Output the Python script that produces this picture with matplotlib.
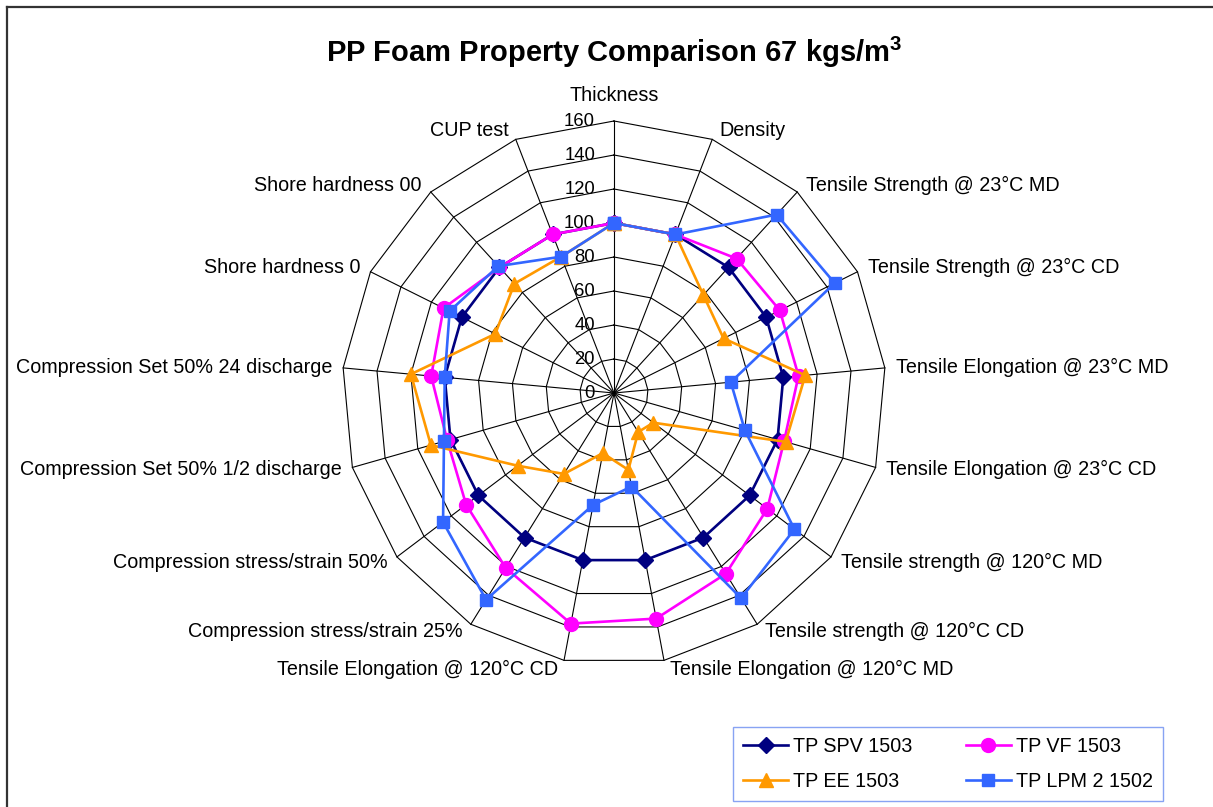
import numpy as np
import matplotlib
matplotlib.use('Agg')
import matplotlib.pyplot as plt
from matplotlib.lines import Line2D

plt.rcParams['font.family'] = ['Liberation Sans', 'DejaVu Sans']
plt.rcParams['mathtext.fontset'] = 'custom'
plt.rcParams['mathtext.bf'] = 'Liberation Sans:bold'
plt.rcParams['mathtext.rm'] = 'Liberation Sans'

categories = [
    "Thickness", "Density", "Tensile Strength @ 23°C MD", "Tensile Strength @ 23°C CD",
    "Tensile Elongation @ 23°C MD", "Tensile Elongation @ 23°C CD",
    "Tensile strength @ 120°C MD", "Tensile strength @ 120°C CD",
    "Tensile Elongation @ 120°C MD", "Tensile Elongation @ 120°C CD",
    "Compression stress/strain 25%", "Compression stress/strain 50%",
    "Compression Set 50% 1/2 discharge", "Compression Set 50% 24 discharge",
    "Shore hardness 0", "Shore hardness 00", "CUP test",
]
spv_1503 = [100, 100, 100, 100, 100, 100, 100, 100, 100, 100, 100, 100, 100, 100, 100, 100, 100]
vf_1503 = [100, 100, 107, 109, 109, 104, 113, 125, 135, 138, 121, 109, 102, 108, 112, 100, 100]
ee_1503 = [100, 100, 78, 72, 113, 105, 29, 27, 46, 36, 56, 71, 112, 120, 78, 87, 86]
lpm2_1502 = [100, 100, 142, 145, 69, 80, 133, 142, 56, 67, 143, 126, 104, 100, 108, 101, 86]
series_names = ["TP SPV 1503", "TP VF 1503", "TP EE 1503", "TP LPM 2 1502"]
r_ticks = [0, 20, 40, 60, 80, 100, 120, 140, 160]

W, H = 1213, 807
fig = plt.figure(figsize=(W / 100, H / 100), dpi=100)
fig.patch.set_facecolor('white')

cx, cy, R = 614, 393, 272
ax = fig.add_axes([(cx - R) / W, (H - cy - R) / H, 2 * R / W, 2 * R / H], projection='polar')
ax.set_theta_zero_location('N')
ax.set_theta_direction(-1)
ax.set_ylim(0, 160)
ax.grid(False)
ax.set_xticks([])
ax.set_yticks([])
ax.spines['polar'].set_visible(False)
ax.patch.set_visible(False)

n = len(categories)
theta = np.arange(n) * 2 * np.pi / n
theta_c = np.append(theta, theta[0])

# polygon grid
for r in r_ticks[1:]:
    ax.plot(theta_c, [r] * (n + 1), color='black', lw=0.8, clip_on=False, zorder=1)
for t in theta:
    ax.plot([t, t], [0, r_ticks[-1]], color='black', lw=0.8, clip_on=False, zorder=1)

# radial tick labels
for r in r_ticks:
    ax.annotate(str(r), xy=(0, r), xytext=(-19, 0), textcoords='offset pixels',
                ha='right', va='center', fontsize=13.3, annotation_clip=False)

# category labels
LFS = 14.2
for t, lab in zip(theta, categories):
    s, c = np.sin(t), np.cos(t)
    if abs(s) < 0.05:
        ax.annotate(lab, xy=(t, r_ticks[-1]), xytext=(0, 20), textcoords='offset pixels',
                    ha='center', va='baseline', fontsize=LFS, annotation_clip=False)
        continue
    dx = np.sign(s) * (5 + 6 * abs(s))
    dy = 9 * c
    ax.annotate(lab, xy=(t, r_ticks[-1]), xytext=(dx, dy), textcoords='offset pixels',
                ha='left' if s > 0 else 'right', va='center', fontsize=LFS,
                annotation_clip=False)

styles = [
    (spv_1503, '#000080', 'D', 8),
    (vf_1503, '#FF00FF', 'o', 10),
    (ee_1503, '#FF9900', '^', 10),
    (lpm2_1502, '#3366FF', 's', 9),
]
handles = []
for (vals, col, mk, ms), name in zip(styles, series_names):
    v = np.append(vals, vals[0])
    ln, = ax.plot(theta_c, v, color=col, lw=1.9, marker=mk, markersize=ms,
                  markerfacecolor=col, markeredgecolor=col, clip_on=False,
                  label=name, zorder=3)
    handles.append(ln)

# title
fig.text(cx / W, 1 - 62 / H, r'PP Foam Property Comparison 67 kgs/m$^\mathbf{3}$',
         ha='center', va='baseline', fontsize=21, fontweight='bold')

# legend, filled row-wise like the reference
order = [0, 2, 1, 3]
leg = fig.legend(handles=[handles[i] for i in order],
                 labels=[series_names[i] for i in order], ncol=2,
                 loc='upper left', bbox_to_anchor=(733 / W, 1 - 727 / H),
                 borderaxespad=0.0,
                 fontsize=14.2, frameon=True, fancybox=False, handlelength=2.3,
                 columnspacing=2.7, labelspacing=0.8, handletextpad=0.25,
                 borderpad=0.5)
leg.get_frame().set_edgecolor('#6b8cf0')
leg.get_frame().set_linewidth(1.0)

# outer frame (left and top edges visible)
fig.add_artist(Line2D([7 / W, 7 / W], [0, 1 - 7 / H], color='#333333', lw=1.6))
fig.add_artist(Line2D([7 / W, 1], [1 - 7 / H, 1 - 7 / H], color='#333333', lw=1.6))

fig.savefig('out.png', dpi=100)
